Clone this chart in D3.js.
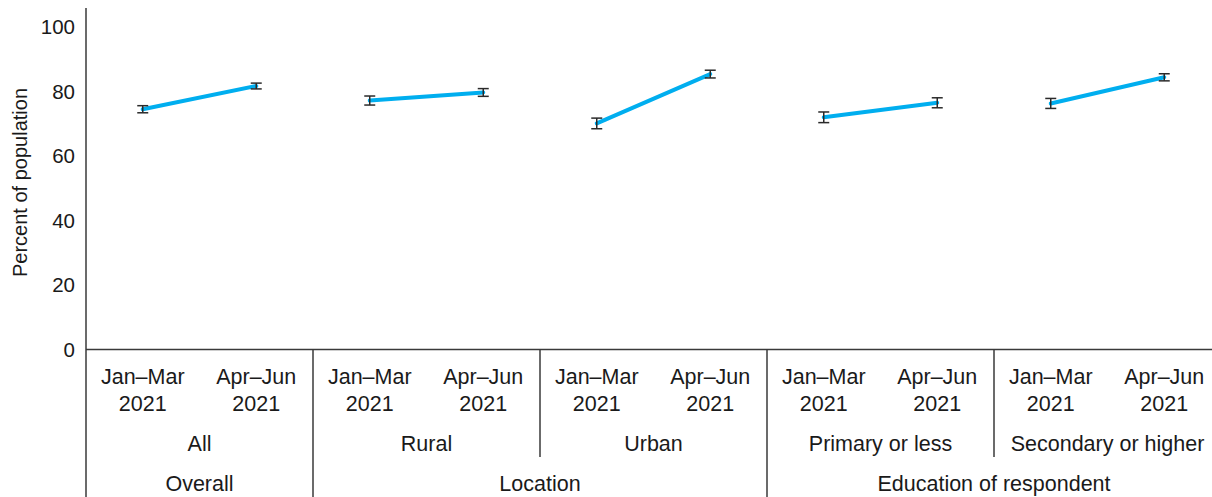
<!DOCTYPE html>
<html>
<head>
<meta charset="utf-8">
<script src="https://cdn.jsdelivr.net/npm/d3@7"></script>
<style>
  body { margin: 0; background: #fff; }
  svg { display: block; font-family: "Liberation Sans", Arial, Helvetica, sans-serif; }
</style>
</head>
<body>
<div id="chart"></div>
<script>
var w = 1212,
  h = 497;

// Data
var subgroups = ["All", "Rural", "Urban", "Primary or less", "Secondary or higher"];
var parents = ["Overall", "Location", "Location", "Education of respondent", "Education of respondent"];
var periods = [["Jan\u2013Mar", "2021"], ["Apr\u2013Jun", "2021"]];
var janMar = [74.5, 77.2, 70.1, 72.0, 76.3];
var aprJun = [81.7, 79.7, 85.4, 76.5, 84.4];
var errJanMar = [1.1, 1.4, 1.65, 1.65, 1.55];
var errAprJun = [0.9, 1.2, 1.2, 1.55, 1.1];
var yTicks = [0, 20, 40, 60, 80, 100];

var left = 86, axisTop = 8, zeroY = 349.5, bandW = 227;

var svg = d3.select("#chart").append("svg")
  .attr("width", w)
  .attr("height", h);

var y = d3.scaleLinear().domain([0, 100]).range([zeroY, 27]);
var x = d3.scaleBand().domain(subgroups).range([left, left + bandW * subgroups.length]).paddingInner(0).paddingOuter(0);
var xIn = d3.scalePoint().domain(periods.map(function(p) { return p.join(" "); })).range([0, x.bandwidth()]).padding(0.5);

var axisColor = "#3a3a3a", textColor = "#1a1a1a", labelSize = "21.5px";

// y axis line (runs down through the label table)
svg.append("line")
  .attr("x1", left).attr("x2", left)
  .attr("y1", axisTop).attr("y2", h)
  .attr("stroke", axisColor).attr("stroke-width", 1.5);

// x axis line
svg.append("line")
  .attr("x1", left).attr("x2", w)
  .attr("y1", y(0)).attr("y2", y(0))
  .attr("stroke", axisColor).attr("stroke-width", 1.5);

// y tick labels
svg.selectAll(".ytick")
  .data(yTicks)
  .enter().append("text")
  .attr("class", "ytick")
  .attr("x", 75)
  .attr("y", function(d) { return y(d); })
  .attr("dy", "0.36em")
  .attr("text-anchor", "end")
  .attr("font-size", "20.5px")
  .attr("fill", textColor)
  .text(function(d) { return d; });

// y title
svg.append("text")
  .attr("transform", "translate(27,182.5) rotate(-90)")
  .attr("text-anchor", "middle")
  .attr("font-size", "20px")
  .attr("fill", textColor)
  .text("Percent of population");

// dividers between subgroups
subgroups.forEach(function(s, i) {
  if (i == 0) return;
  var newParent = parents[i] != parents[i - 1];
  svg.append("line")
    .attr("x1", x(s)).attr("x2", x(s))
    .attr("y1", y(0)).attr("y2", newParent ? h : 457)
    .attr("stroke", axisColor).attr("stroke-width", 1.5);
});

// period labels
subgroups.forEach(function(s) {
  periods.forEach(function(p) {
    var t = svg.append("text")
      .attr("x", x(s) + xIn(p.join(" ")))
      .attr("text-anchor", "middle")
      .attr("font-size", labelSize)
      .attr("fill", textColor);
    t.append("tspan").attr("x", x(s) + xIn(p.join(" "))).attr("y", 384).text(p[0]);
    t.append("tspan").attr("x", x(s) + xIn(p.join(" "))).attr("y", 411).text(p[1]);
  });
  svg.append("text")
    .attr("x", x(s) + x.bandwidth() / 2)
    .attr("y", 451)
    .attr("text-anchor", "middle")
    .attr("font-size", labelSize)
    .attr("fill", textColor)
    .text(s);
});

// parent group labels
var parentNames = parents.filter(function(p, i) { return parents.indexOf(p) == i; });
parentNames.forEach(function(p) {
  var members = subgroups.filter(function(s, i) { return parents[i] == p; });
  var x0 = x(members[0]), x1 = x(members[members.length - 1]) + x.bandwidth();
  svg.append("text")
    .attr("x", (x0 + x1) / 2)
    .attr("y", 491)
    .attr("text-anchor", "middle")
    .attr("font-size", labelSize)
    .attr("fill", textColor)
    .text(p);
});

// lines and error bars
var line = d3.line()
  .x(function(d) { return d.x; })
  .y(function(d) { return y(d.v); });

subgroups.forEach(function(s, i) {
  var pts = [
    { x: x(s) + xIn(periods[0].join(" ")), v: janMar[i], e: errJanMar[i] },
    { x: x(s) + xIn(periods[1].join(" ")), v: aprJun[i], e: errAprJun[i] }
  ];
  svg.append("path")
    .datum(pts)
    .attr("d", line)
    .attr("fill", "none")
    .attr("stroke", "#00AEEF")
    .attr("stroke-width", 4)
    .attr("stroke-linecap", "round");

  var eb = svg.selectAll(null).data(pts).enter().append("g").attr("stroke", "#2a2a2a").attr("stroke-width", 1.5);
  eb.append("line")
    .attr("x1", function(d) { return d.x; }).attr("x2", function(d) { return d.x; })
    .attr("y1", function(d) { return y(d.v + d.e); }).attr("y2", function(d) { return y(d.v - d.e); });
  eb.append("line")
    .attr("x1", function(d) { return d.x - 5.5; }).attr("x2", function(d) { return d.x + 5.5; })
    .attr("y1", function(d) { return y(d.v + d.e); }).attr("y2", function(d) { return y(d.v + d.e); });
  eb.append("line")
    .attr("x1", function(d) { return d.x - 5.5; }).attr("x2", function(d) { return d.x + 5.5; })
    .attr("y1", function(d) { return y(d.v - d.e); }).attr("y2", function(d) { return y(d.v - d.e); });
});
</script>
</body>
</html>
